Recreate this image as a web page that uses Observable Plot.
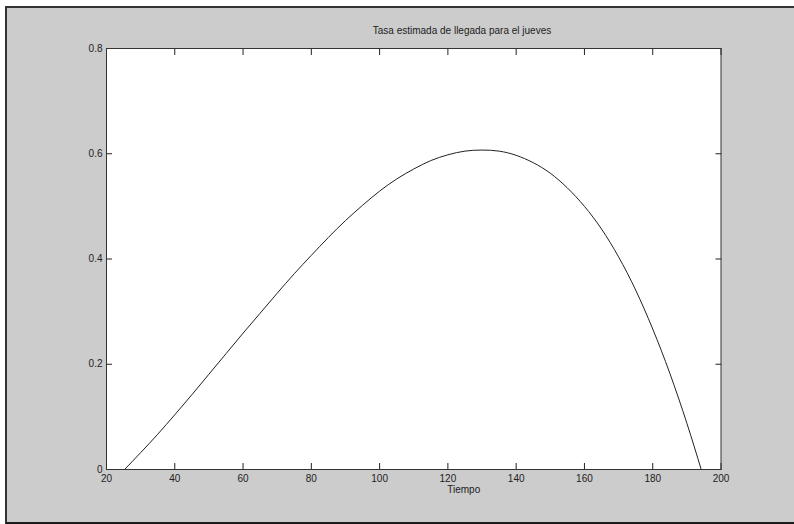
<!DOCTYPE html>
<html><head><meta charset="utf-8">
<script src="https://cdn.jsdelivr.net/npm/d3@7"></script>
<script src="https://cdn.jsdelivr.net/npm/@observablehq/plot@0.6"></script>
<style>
body{margin:0;background:#fff;}
#wrap{position:relative;width:794px;height:524px;overflow:hidden;font-family:"Liberation Sans",Arial,sans-serif;}
#bg{position:absolute;left:5px;top:6px;right:0;bottom:0;background:#cccccc;border-left:2px solid #333;border-top:2px solid #333;border-bottom:2px solid #1c1c1c;box-sizing:border-box;}
#title{position:absolute;top:25px;left:312px;width:300px;text-align:center;font-size:10px;line-height:12px;color:#222;}
#chart{position:absolute;left:0;top:0;}
</style>
</head><body>
<div id="wrap"><div id="bg"></div><div id="title">Tasa estimada de llegada para el jueves</div><div id="chart"></div></div>
<script>
const tiempo = [25.3, 30, 35, 40, 45, 50, 55, 60, 65, 70, 75, 80, 85, 90, 95, 100, 105, 110, 115, 120, 125, 130, 135, 140, 145, 150, 155, 160, 165, 170, 175, 180, 185, 190, 194.2];
const tasa = [0, 0.032, 0.067, 0.104, 0.142, 0.181, 0.220, 0.259, 0.297, 0.335, 0.372, 0.407, 0.441, 0.473, 0.502, 0.529, 0.552, 0.571, 0.587, 0.598, 0.605, 0.607, 0.605, 0.597, 0.583, 0.563, 0.535, 0.500, 0.457, 0.404, 0.341, 0.267, 0.183, 0.088, 0];
const xTicks = [20, 40, 60, 80, 100, 120, 140, 160, 180, 200];
const yTicks = [0, 0.2, 0.4, 0.6, 0.8];
const xLabel = "Tiempo";

const data = tiempo.map((t, i) => ({t, v: tasa[i]}));

const chart = Plot.plot({
  width: 794, height: 524,
  marginLeft: 106, marginRight: 73.5, marginTop: 48, marginBottom: 55,
  style: {background: "transparent", fontFamily: "Liberation Sans, Arial, sans-serif", fontSize: "10px", color: "#222"},
  x: {domain: [20, 200]},
  y: {domain: [0, 0.8]},
  marks: [
    Plot.frame({fill: "white"}),
    Plot.line(data, {x: "t", y: "v", curve: "natural", stroke: "#222", strokeWidth: 1}),
    Plot.axisX({anchor: "bottom", ticks: xTicks, tickSize: -6, tickPadding: 11, label: null, tickFormat: d => String(d)}),
    Plot.axisX({anchor: "top", ticks: xTicks, tickSize: -6, label: null, tickFormat: () => ""}),
    Plot.axisY({anchor: "left", ticks: yTicks, tickSize: -6, tickPadding: 10, label: null, tickFormat: d => d === 0 ? "0" : d3.format(".1f")(d)}),
    Plot.axisY({anchor: "right", ticks: yTicks, tickSize: -6, label: null, tickFormat: () => ""}),
    Plot.frame({stroke: "#333"}),
    Plot.text([xLabel], {text: d => d, frameAnchor: "bottom", dx: 50, dy: 23.5, fill: "#222"})
  ]
});
document.getElementById("chart").appendChild(chart);
</script>
</body></html>
